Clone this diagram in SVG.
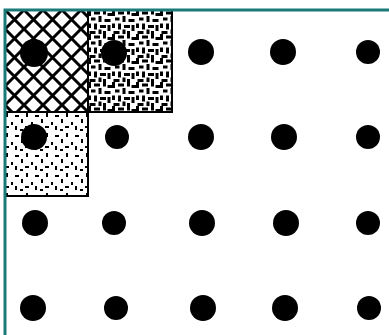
<svg xmlns="http://www.w3.org/2000/svg" width="389" height="335" viewBox="0 0 389 335">
  <style>
    .dot { fill: #000; }
    .frame { stroke: #1b7a78; stroke-width: 3; fill: none; }
    .edge { stroke: #000; stroke-width: 2; fill: none; }
  </style>
  <defs>
    <pattern id="cross" patternUnits="userSpaceOnUse" width="19" height="19" x="5" y="10">
      <rect width="19" height="19" fill="#fff"/>
      <path d="M-2,2 L2,-2 M0,19 L19,0 M17,21 L21,17 M-2,17 L2,21 M0,0 L19,19 M17,-2 L21,2" stroke="#000" stroke-width="3"/>
    </pattern>
    <pattern id="dense" patternUnits="userSpaceOnUse" width="24" height="24" x="88" y="10" patternTransform="scale(1)">
      <rect width="24" height="24" fill="#fff"/>
      <g fill="#000" transform="scale(1.5)">
        <rect x="0" y="0" width="2" height="4"/>
        <rect x="4" y="1" width="4" height="2"/>
        <rect x="10" y="0" width="2" height="3"/>
        <rect x="13" y="2" width="3" height="2"/>
        <rect x="2" y="5" width="3" height="2"/>
        <rect x="7" y="4" width="2" height="4"/>
        <rect x="11" y="6" width="4" height="2"/>
        <rect x="0" y="9" width="2" height="3"/>
        <rect x="4" y="9" width="2" height="4"/>
        <rect x="8" y="10" width="4" height="2"/>
        <rect x="13" y="10" width="2" height="4"/>
        <rect x="1" y="14" width="4" height="2"/>
        <rect x="7" y="13" width="2" height="3"/>
        <rect x="10" y="14" width="2" height="2"/>
      </g>
    </pattern>
    <pattern id="sparse" patternUnits="userSpaceOnUse" width="20" height="20" x="5" y="112">
      <rect width="20" height="20" fill="#fff"/>
      <g fill="#000">
        <rect x="1" y="1" width="2" height="4"/>
        <rect x="10" y="3" width="4" height="2"/>
        <rect x="16" y="7" width="2" height="4"/>
        <rect x="6" y="10" width="2" height="3"/>
        <rect x="0" y="14" width="4" height="2"/>
        <rect x="10" y="14" width="2" height="4"/>
        <rect x="15" y="17" width="3" height="2"/>
      </g>
    </pattern>
  </defs>

  <rect width="389" height="335" fill="#fff"/>

  <g id="tile-crosshatch">
    <rect x="5" y="10" width="83" height="102" fill="url(#cross)"/>
  </g>
  <g id="tile-dense">
    <rect x="88" y="10" width="84" height="102" fill="url(#dense)"/>
  </g>
  <g id="tile-sparse">
    <rect x="5" y="112" width="83" height="84" fill="url(#sparse)"/>
  </g>

  <g id="tile-edges">
    <path class="edge" d="M5,112 H172 V10 M88,10 V196 H5"/>
  </g>

  <g id="dots">
    <circle class="dot" cx="34" cy="53" r="14"/>
    <circle class="dot" cx="114" cy="53" r="13"/>
    <circle class="dot" cx="201" cy="52" r="13"/>
    <circle class="dot" cx="283" cy="52" r="13"/>
    <circle class="dot" cx="368" cy="52" r="12"/>

    <circle class="dot" cx="34" cy="137" r="13"/>
    <circle class="dot" cx="117" cy="137" r="12"/>
    <circle class="dot" cx="201" cy="137" r="13"/>
    <circle class="dot" cx="284" cy="137" r="13"/>
    <circle class="dot" cx="368" cy="137" r="12"/>

    <circle class="dot" cx="35" cy="223" r="13"/>
    <circle class="dot" cx="114" cy="223" r="12"/>
    <circle class="dot" cx="202" cy="223" r="13"/>
    <circle class="dot" cx="286" cy="223" r="13"/>
    <circle class="dot" cx="368" cy="223" r="12"/>

    <circle class="dot" cx="33" cy="308" r="13"/>
    <circle class="dot" cx="116" cy="308" r="12"/>
    <circle class="dot" cx="203" cy="308" r="13"/>
    <circle class="dot" cx="285" cy="308" r="13"/>
    <circle class="dot" cx="369" cy="308" r="12"/>
  </g>

  <g id="frame">
    <path class="frame" d="M5,335 V10 H389"/>
  </g>
</svg>
